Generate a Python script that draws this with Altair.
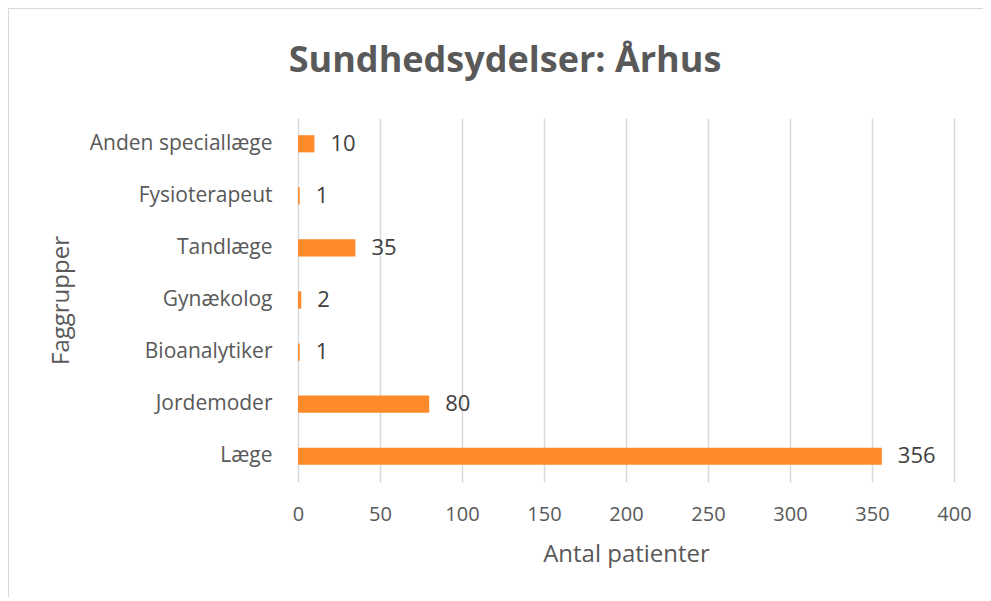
import altair as alt
import pandas as pd

categories = ["Anden speciallæge", "Fysioterapeut", "Tandlæge", "Gynækolog",
              "Bioanalytiker", "Jordemoder", "Læge"]
values = [10, 1, 35, 2, 1, 80, 356]

df = pd.DataFrame({"Faggruppe": categories, "Antal": values})

FONT = "Open Sans"
GREY = "#595959"

x_enc = alt.X("Antal:Q", scale=alt.Scale(domain=[0, 400]),
              axis=alt.Axis(title="Antal patienter", values=list(range(0, 401, 50)),
                            grid=True, gridColor="#d9d9d9", gridWidth=1.5,
                            domain=False, ticks=False, labelPadding=22,
                            labelFlush=False, labelOverlap=False,
                            labelFontSize=20, labelColor=GREY, labelFont=FONT,
                            titleFontSize=24, titleColor=GREY, titleFont=FONT,
                            titleFontWeight="normal", titlePadding=18))
y_enc = alt.Y("Faggruppe:N", sort=categories,
              scale=alt.Scale(paddingInner=0.67, paddingOuter=0.33),
              axis=alt.Axis(title="Faggrupper", domain=False, ticks=False,
                            labelPadding=26, labelFontSize=21, labelColor=GREY,
                            labelFont=FONT, labelLimit=400, titleFontSize=24,
                            titleColor=GREY, titleFont=FONT,
                            titleFontWeight="normal", titlePadding=25))

bars = alt.Chart(df).mark_bar(color="#FE8A2B").encode(x=x_enc, y=y_enc)
labels = alt.Chart(df).mark_text(align="left", baseline="middle", dx=16,
                                 fontSize=22, color="#404040", font=FONT).encode(
    x="Antal:Q", y=alt.Y("Faggruppe:N", sort=categories), text="Antal:Q")

border = alt.Chart(df).mark_rect(fillOpacity=0, stroke="#d9d9d9", strokeWidth=1.5).encode(
    x=alt.value(-290), x2=alt.value(692), y=alt.value(-110), y2=alt.value(482))

chart = alt.layer(border, bars, labels).properties(
    width=656, height=364,
    title=alt.TitleParams("Sundhedsydelser: Århus", fontSize=36, font=FONT,
                          fontWeight="bold", color=GREY, anchor="middle",
                          frame="group", dx=-121, offset=0, dy=73),
    autosize=alt.AutoSizeParams(type="none"),
    padding={"left": 290, "top": 110, "right": 29, "bottom": 115},
    background="white",
).configure_view(stroke=None)

chart.save("out.html", embed_options={"renderer": "svg", "actions": False})
